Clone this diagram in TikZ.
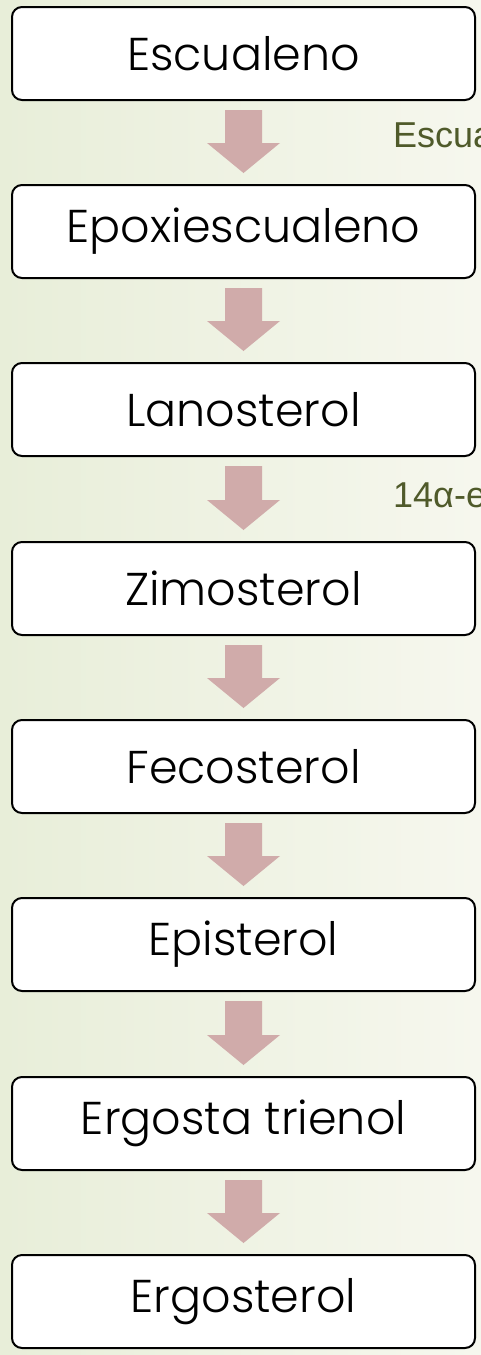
\documentclass[tikz,border=0pt]{standalone}
\usepackage{fontspec}
\setmainfont{Poppins}[UprightFont=* Light]
\newfontfamily\labelfont{Liberation Sans}
\usetikzlibrary{calc}
\definecolor{bgleft}{HTML}{E8EED9}
\definecolor{bgright}{HTML}{F6F7EE}
\definecolor{arrowc}{HTML}{D0ABAA}
\definecolor{labelc}{HTML}{4F5A2A}
\tikzset{
  stepbox/.style={draw=black, line width=2pt, fill=white, rounded corners=10pt,
    minimum width=463pt, minimum height=93pt, inner sep=0pt,
    font=\fontsize{46}{50}\selectfont},
  sidelabel/.style={text=labelc, anchor=base west, inner sep=0pt,
    font=\labelfont\fontsize{36}{40}\selectfont}
}
\begin{document}
\begin{tikzpicture}[x=1pt,y=-1pt]
\useasboundingbox (0,0) rectangle (481,1355);
\shade[left color=bgleft, right color=bgright] (0,0) rectangle (481,1355);
\node[stepbox] (n1) at (243.5,53.5) {Escualeno};
\node[stepbox] (n2) at (243.5,231.5) {Epoxiescualeno};
\node[stepbox] (n3) at (243.5,409.5) {Lanosterol};
\node[stepbox] (n4) at (243.5,588.5) {Zimosterol};
\node[stepbox] (n5) at (243.5,766.5) {Fecosterol};
\node[stepbox] (n6) at (243.5,944.5) {Episterol};
\node[stepbox] (n7) at (243.5,1123.5) {Ergosta trienol};
\node[stepbox] (n8) at (243.5,1301.5) {Ergosterol};
\foreach \a/\b in {n1/n2,n2/n3,n3/n4,n4/n5,n5/n6,n6/n7,n7/n8}{
  \coordinate (s) at ($(\a.south)+(0,9)$);
  \coordinate (t) at ($(\b.north)+(0,-11)$);
  \fill[arrowc] ($(s)+(-18.5,0)$) -- ($(s)+(18.5,0)$) -- ($(t)+(18.5,-30)$)
    -- ($(t)+(36.5,-30)$) -- (t) -- ($(t)+(-36.5,-30)$) -- ($(t)+(-18.5,-30)$) -- cycle;
}
\node[sidelabel] (l1) at (393,147) {Escua};
\node[sidelabel] (l2) at (393,507) {14α-e};
\end{tikzpicture}
\end{document}
